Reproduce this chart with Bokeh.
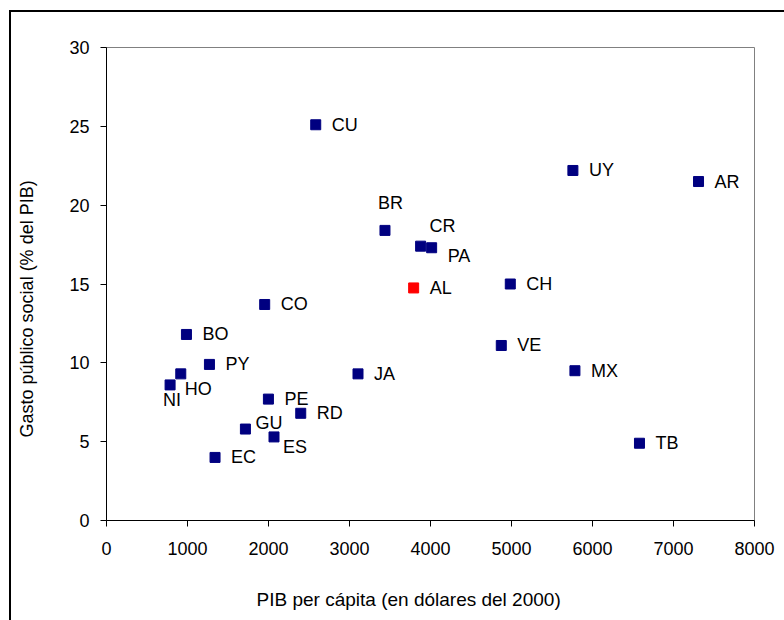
from bokeh.plotting import figure
from bokeh.models import ColumnDataSource, Range1d, FixedTicker, LinearAxis
from bokeh.embed import file_html
from bokeh.resources import INLINE
from bokeh.core.properties import value

# ---- data ----
paises = ["CU", "UY", "AR", "BR", "CR", "PA", "AL", "CH", "CO", "BO", "VE",
          "PY", "HO", "NI", "JA", "MX", "PE", "RD", "GU", "ES", "EC", "TB"]
pib = [2583, 5758, 7309, 3438, 3878, 4014, 3792, 4985, 1953, 987, 4874,
       1271, 917, 785, 3105, 5783, 1999, 2398, 1715, 2068, 1340, 6580]
gasto = [25.1, 22.2, 21.5, 18.4, 17.4, 17.3, 14.75, 15.0, 13.7, 11.8, 11.1,
         9.9, 9.3, 8.6, 9.3, 9.5, 7.7, 6.8, 5.8, 5.3, 4.0, 4.9]
x_ticks = [0, 1000, 2000, 3000, 4000, 5000, 6000, 7000, 8000]
y_ticks = [0, 5, 10, 15, 20, 25, 30]
x_title = "PIB per cápita (en dólares del 2000)"
y_title = "Gasto público social (% del PIB)"

# ---- layout: label placement (screen px) and title anchors (data units) ----
default_off = (16, 0)
label_off = {"BR": (-7, -27), "CR": (9, -20), "PA": (16, 8), "NI": (-7, 15),
             "HO": (4, 15), "GU": (10, -6), "ES": (9, 10)}
x_title_at = 3730
y_title_at = 13.42

FONT = "Liberation Sans"
NAVY = "#000080"

colors = ["#FF0000" if c == "AL" else NAVY for c in paises]
dx = [label_off.get(c, default_off)[0] for c in paises]
dy = [label_off.get(c, default_off)[1] for c in paises]

src = ColumnDataSource(dict(x=pib, y=gasto, code=paises, color=colors, dx=dx, dy=dy))

p = figure(width=773, height=608, output_backend="svg", toolbar_location=None,
           x_range=Range1d(0, 8000), y_range=Range1d(0, 30),
           min_border_left=95, min_border_top=35, min_border_right=30,
           min_border_bottom=100,
           styles={"outline": "2px solid black", "margin-left": "11px",
                   "margin-top": "12px"})

p.grid.visible = False
p.outline_line_color = "#808080"
p.outline_line_width = 1
p.background_fill_color = "white"
p.border_fill_color = "white"

for ax, ticks in ((p.xaxis[0], x_ticks), (p.yaxis[0], y_ticks)):
    ax.ticker = FixedTicker(ticks=ticks)
    ax.minor_tick_line_color = None
    ax.major_tick_in = 0
    ax.major_tick_out = 6
    ax.axis_line_color = "black"
    ax.major_tick_line_color = "black"
    ax.major_label_text_font = FONT
    ax.major_label_text_font_size = "18px"
    ax.major_label_text_color = "black"

p.xaxis.major_label_standoff = 15
p.yaxis.major_label_standoff = 11


def title_axis(text, at, size, standoff, orientation):
    return LinearAxis(ticker=FixedTicker(ticks=[at]),
                      major_label_overrides={at: text},
                      major_label_orientation=orientation,
                      axis_line_color=None, major_tick_line_color=None,
                      minor_tick_line_color=None, major_tick_out=0, major_tick_in=0,
                      minor_tick_out=0, minor_tick_in=0,
                      major_label_standoff=standoff,
                      major_label_text_font=FONT, major_label_text_font_size=size,
                      major_label_text_color="black")


p.add_layout(title_axis(x_title, x_title_at, "19px", 31, "horizontal"), "below")
p.add_layout(title_axis(y_title, y_title_at, "18px", 29, "vertical"), "left")

p.scatter("x", "y", source=src, marker="square", size=10,
          fill_color="color", line_color="color")
p.text("x", "y", text="code", source=src, x_offset="dx", y_offset="dy",
       text_font=value(FONT), text_font_size=value("18px"), text_color="black",
       text_align="left", text_baseline="middle")

open("out.html", "w").write(file_html(p, INLINE))
